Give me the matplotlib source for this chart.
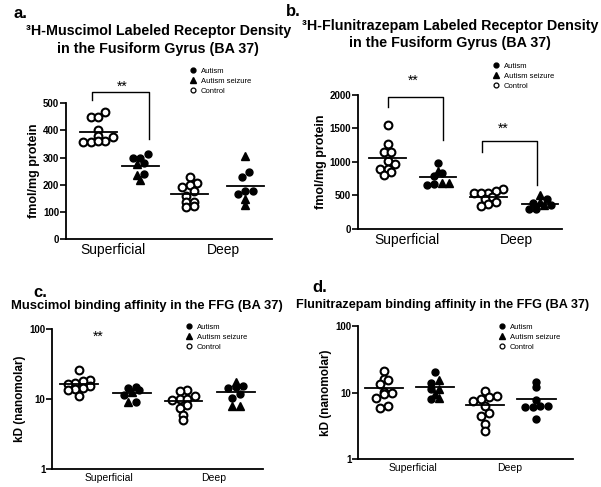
import matplotlib
matplotlib.use('Agg')
import matplotlib.pyplot as plt
from matplotlib.lines import Line2D
import numpy as np

plt.rcParams['font.family'] = ['Liberation Sans', 'DejaVu Sans']

# values
# a. 3H-muscimol density (fmol/mg protein)
a_sup_ctrl = [466, 450, 450, 400, 380, 375, 360, 358, 358, 360]
a_sup_aut = [312, 300, 299, 280, 238]
a_sup_seiz = [278, 235, 217]
a_deep_ctrl = [229, 205, 199, 190, 176, 160, 137, 137, 121, 119]
a_deep_aut = [246, 230, 178, 167, 178]
a_deep_seiz = [306, 147, 125]

# b. 3H-flunitrazepam density (fmol/mg protein)
b_sup_ctrl = [1552, 1263, 1153, 1153, 1010, 970, 900, 900, 850, 810]
b_sup_aut = [978, 830, 790, 670, 660]
b_sup_seiz = [868, 690, 680]
b_deep_ctrl = [594, 564, 540, 530, 530, 480, 450, 395, 370, 344]
b_deep_aut = [444, 380, 360, 300, 290]
b_deep_seiz = [504, 404, 350]

# c. muscimol kD (nM)
c_sup_ctrl = [26, 18.7, 18, 17.3, 16.7, 15.5, 14.6, 13.9, 13.4, 11.0]
c_sup_aut = [14.9, 14.5, 13.5, 11.5, 9.1]
c_sup_seiz = [12.7, 9.1]
c_deep_ctrl = [13.7, 13.2, 11.0, 10.1, 10.1, 9.8, 8.2, 7.5, 5.9, 5.0]
c_deep_aut = [15.3, 15.0, 14.5, 11.8, 10.5]
c_deep_seiz = [17.7, 7.9, 7.9]

# d. flunitrazepam kD (nM)
d_sup_ctrl = [21.4, 15.9, 15.2, 13.5, 10.3, 9.8, 9.6, 8.4, 6.3, 5.8]
d_sup_aut = [20, 14.1, 11.3, 8.0]
d_sup_seiz = [15.5, 11.3, 8.3, 9.5]
d_deep_ctrl = [10.5, 8.8, 8.5, 8.0, 7.5, 6.2, 5.0, 4.4, 3.4, 2.7]
d_deep_aut = [14.6, 12.3, 7.8, 6.3, 6.2, 6.1, 6.0, 4.0]
d_deep_seiz = []

regions = ['Superficial', 'Deep']
legend_labels = ['Autism', 'Autism seizure', 'Control']


def swarm(t, tol=0.035, dx=0.036):
    # simple column scatter: points at similar height are spread sideways
    order = np.argsort(t)
    rows = []
    for i in order:
        if rows and t[i] - t[rows[-1][0]] <= tol:
            rows[-1].append(i)
        else:
            rows.append([i])
    offs = np.zeros(len(t))
    for r in rows:
        n = len(r)
        for k, i in enumerate(r):
            offs[i] = (k - (n - 1) / 2) * dx
    return offs


def draw_panel(ax, cols, xpos, ylim, log, label_x, ylabel, tick_fs=9, ylab_fs=9):
    def norm(v):
        v = np.asarray(v, float)
        if log:
            return (np.log10(v) - np.log10(ylim[0])) / (np.log10(ylim[1]) - np.log10(ylim[0]))
        return (v - ylim[0]) / (ylim[1] - ylim[0])

    for x, (ctrl, aut, seiz) in zip(xpos, cols):
        if ctrl:
            vals = np.array(ctrl, float)
            off = swarm(norm(vals))
            ax.plot(x + off, vals, 'o', ms=5.6, mfc='white', mec='black', mew=1.5,
                    ls='none', clip_on=False)
        else:
            vals = np.array(aut + seiz, float)
            kinds = np.array(['c'] * len(aut) + ['t'] * len(seiz))
            off = swarm(norm(vals))
            m = kinds == 'c'
            ax.plot(x + off[m], vals[m], 'o', ms=5, color='black', ls='none', clip_on=False)
            ax.plot(x + off[~m], vals[~m], '^', ms=5.5, color='black', ls='none', clip_on=False)
        mean = np.mean(vals)
        ax.plot([x - 0.09, x + 0.09], [mean, mean], color='black', lw=1.3)

    if log:
        ax.set_yscale('log')
    ax.set_ylim(*ylim)
    ax.set_xlim(0, 1)
    ax.set_xticks(label_x)
    ax.set_xticklabels(regions, fontsize=tick_fs)
    ax.tick_params(axis='x', length=0, pad=3)
    ax.tick_params(axis='y', length=4, width=1.2, labelsize=7, pad=1)
    ax.minorticks_off()
    ax.spines['top'].set_visible(False)
    ax.spines['right'].set_visible(False)
    ax.spines['left'].set_linewidth(1.3)
    ax.spines['bottom'].set_linewidth(1.3)
    ax.set_ylabel(ylabel, fontsize=ylab_fs, fontweight='bold', labelpad=2)


def add_legend(fig, x, y):
    handles = [Line2D([], [], marker='o', ls='none', color='black', ms=3.5),
               Line2D([], [], marker='^', ls='none', color='black', ms=3.8),
               Line2D([], [], marker='o', ls='none', mfc='white', mec='black', ms=3.5, mew=0.9)]
    fig.legend(handles, legend_labels, loc='upper left', bbox_to_anchor=(x, y),
               bbox_transform=fig.transFigure, frameon=False, fontsize=5.5,
               handlelength=0.8, handletextpad=0.6, labelspacing=0.35,
               borderpad=0, borderaxespad=0)


def bracket(ax, x0, x1, y0, ytop, y1):
    ax.plot([x0, x0, x1, x1], [y0, ytop, ytop, y1], color='black', lw=1.0, clip_on=False)


fig = plt.figure(figsize=(6.01, 4.87), dpi=100)

# panel a
ax_a = fig.add_axes([0.110, 0.509, 0.343, 0.279])
draw_panel(ax_a, [(a_sup_ctrl, None, None), (None, a_sup_aut, a_sup_seiz),
                  (a_deep_ctrl, None, None), (None, a_deep_aut, a_deep_seiz)],
           [0.155, 0.36, 0.60, 0.87], (0, 500), False, [0.228, 0.762], 'fmol/mg protein', 10)
ax_a.set_yticks([0, 100, 200, 300, 400, 500])
for lab in ax_a.get_yticklabels():
    lab.set_fontweight('bold')
bracket(ax_a, 0.128, 0.404, 511, 541, 367)
ax_a.text(0.27, 562, '**', ha='center', va='center', fontsize=10)

# panel b
ax_b = fig.add_axes([0.596, 0.530, 0.339, 0.275])
draw_panel(ax_b, [(b_sup_ctrl, None, None), (None, b_sup_aut, b_sup_seiz),
                  (b_deep_ctrl, None, None), (None, b_deep_aut, b_deep_seiz)],
           [0.144, 0.391, 0.639, 0.892], (0, 2000), False, [0.24, 0.777], 'fmol/mg protein', 10)
ax_b.set_yticks([0, 500, 1000, 1500, 2000])
for lab in ax_b.get_yticklabels():
    lab.set_fontweight('bold')
bracket(ax_b, 0.144, 0.415, 1826, 1975, 1327)
bracket(ax_b, 0.606, 0.879, 1152, 1312, 654)
ax_b.text(0.27, 2210, '**', ha='center', va='center', fontsize=10, clip_on=False)
ax_b.text(0.712, 1490, '**', ha='center', va='center', fontsize=10)

# panel c
ax_c = fig.add_axes([0.087, 0.0363, 0.351, 0.288])
draw_panel(ax_c, [(c_sup_ctrl, None, None), (None, c_sup_aut, c_sup_seiz),
                  (c_deep_ctrl, None, None), (None, c_deep_aut, c_deep_seiz)],
           [0.127, 0.377, 0.622, 0.87], (1, 100), True, [0.27, 0.764], 'kD (nanomolar)', 7.5, 8.5)
ax_c.set_yticks([1, 10, 100])
ax_c.set_yticklabels(['1', '10', '100'], fontweight='bold')
ax_c.text(0.217, 78, '**', ha='center', va='center', fontsize=10)

# panel d
ax_d = fig.add_axes([0.596, 0.0569, 0.357, 0.274])
draw_panel(ax_d, [(d_sup_ctrl, None, None), (None, d_sup_aut, d_sup_seiz),
                  (d_deep_ctrl, None, None), (None, d_deep_aut, d_deep_seiz)],
           [0.121, 0.358, 0.591, 0.831], (1, 100), True, [0.256, 0.704], 'kD (nanomolar)', 7.5, 8.5)
ax_d.set_yticks([1, 10, 100])
ax_d.set_yticklabels(['1', '10', '100'], fontweight='bold')

add_legend(fig, 0.316, 0.862)
add_legend(fig, 0.820, 0.872)
add_legend(fig, 0.310, 0.336)
add_legend(fig, 0.830, 0.336)

# titles and panel letters
fig.text(0.022, 0.988, 'a.', fontsize=12, fontweight='bold', va='top')
fig.text(0.263, 0.950, '³H-Muscimol Labeled Receptor Density\nin the Fusiform Gyrus (BA 37)',
         ha='center', va='top', fontsize=10.3, fontweight='bold', linespacing=1.3)
fig.text(0.476, 0.992, 'b.', fontsize=12, fontweight='bold', va='top')
fig.text(0.749, 0.962, '³H-Flunitrazepam Labeled Receptor Density\nin the Fusiform Gyrus (BA 37)',
         ha='center', va='top', fontsize=10.3, fontweight='bold', linespacing=1.3)
fig.text(0.055, 0.415, 'c.', fontsize=12, fontweight='bold', va='top')
fig.text(0.244, 0.383, 'Muscimol binding affinity in the FFG (BA 37)',
         ha='center', va='top', fontsize=9.4, fontweight='bold')
fig.text(0.52, 0.425, 'd.', fontsize=12, fontweight='bold', va='top')
fig.text(0.737, 0.387, 'Flunitrazepam binding affinity in the FFG (BA 37)',
         ha='center', va='top', fontsize=9.1, fontweight='bold')

fig.savefig('out.png', dpi=100)
